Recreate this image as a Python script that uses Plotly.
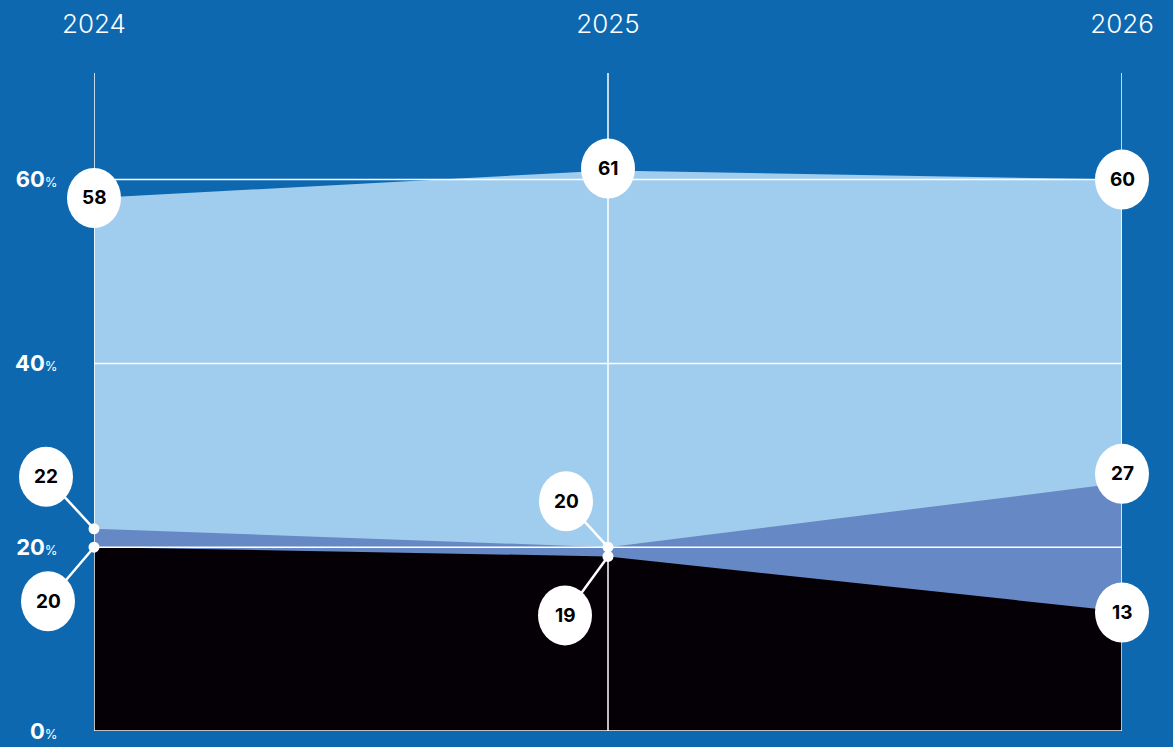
import plotly.graph_objects as go

years = [2024, 2025, 2026]
top_values = [58, 61, 60]      # light blue series
mid_values = [22, 20, 27]      # medium blue series
low_values = [20, 19, 13]      # black series
y_ticks = [0, 20, 40, 60]
y_tick_labels = ["0", "20", "40", "60"]
year_labels = ["2024", "2025", "2026"]

BG = "#0d68b0"
LIGHT = "#a0cdee"
MID = "#6688c4"
DARK = "#050005"
WHITE = "#ffffff"
ytop = 71.6

fig = go.Figure()
for vals, col in [(top_values, LIGHT), (mid_values, MID), (low_values, DARK)]:
    fig.add_trace(go.Scatter(x=years, y=vals, mode="lines", fill="tozeroy",
                             fillcolor=col, line=dict(width=0, color=col),
                             hoverinfo="skip", showlegend=False))

# grid lines drawn above the areas
for t in y_ticks:
    fig.add_trace(go.Scatter(x=[years[0], years[-1]], y=[t, t], mode="lines",
                             line=dict(color=WHITE, width=1.5),
                             hoverinfo="skip", showlegend=False))
for yr in years:
    fig.add_trace(go.Scatter(x=[yr, yr], y=[0, ytop], mode="lines",
                             line=dict(color=WHITE, width=1.5),
                             hoverinfo="skip", showlegend=False))

def px(yr):
    return (yr - years[0]) / (years[-1] - years[0])

def py(v):
    return v / ytop

# label offsets (pixels: dx right, dy up) and whether a connector is used
series_offsets = [
    (top_values, [(0, 0), (0, 2), (0, 0)], [False, False, False]),
    (mid_values, [(-48, 52), (-42, 46), (0, 9)], [True, True, False]),
    (low_values, [(-46, -54), (-43, -59), (0, -1)], [True, True, False]),
]

RX, RY = 27, 30
for vals, offs, conn in series_offsets:
    for i, (yr, v) in enumerate(zip(years, vals)):
        dx, dy = offs[i]
        ax, ay = px(yr), py(v)
        if conn[i]:
            fig.add_shape(type="line", xref="paper", yref="paper",
                          xsizemode="pixel", ysizemode="pixel",
                          xanchor=ax, yanchor=ay, x0=0, y0=0, x1=dx, y1=dy,
                          line=dict(color=WHITE, width=2.5), layer="above")
            fig.add_shape(type="circle", xref="paper", yref="paper",
                          xsizemode="pixel", ysizemode="pixel",
                          xanchor=ax, yanchor=ay, x0=-5.5, x1=5.5, y0=-5.5, y1=5.5,
                          fillcolor=WHITE, line=dict(width=0), layer="above")
        fig.add_shape(type="circle", xref="paper", yref="paper",
                      xsizemode="pixel", ysizemode="pixel",
                      xanchor=ax, yanchor=ay, x0=dx - RX, x1=dx + RX,
                      y0=dy - RY, y1=dy + RY,
                      fillcolor=WHITE, line=dict(width=0), layer="above")
        fig.add_annotation(x=yr, y=v, xref="x", yref="y", text=f"<b>{v}</b>",
                           showarrow=False, xshift=dx, yshift=dy,
                           font=dict(family="Inter, Lato, sans-serif", size=19,
                                     color="#000000"))

fig.update_layout(
    width=1173, height=747,
    paper_bgcolor=BG, plot_bgcolor=BG,
    margin=dict(l=94, r=51, t=73, b=16),
    showlegend=False,
    xaxis=dict(range=[years[0], years[-1]], side="top", tickvals=years,
               ticktext=year_labels, showgrid=False, zeroline=False,
               showline=False, ticks="outside", ticklen=29, automargin=False,
               tickcolor="rgba(0,0,0,0)",
               tickfont=dict(family="Inter, Lato, sans-serif", size=26,
                             color=WHITE, weight=300)),
    yaxis=dict(range=[0, ytop], tickvals=y_ticks,
               ticktext=[f"<b>{t}</b><span style='font-size:13px'>%</span>"
                         for t in y_tick_labels],
               showgrid=False, zeroline=False, showline=False, automargin=False,
               ticks="outside", ticklen=31, tickcolor="rgba(0,0,0,0)",
               tickfont=dict(family="Inter, Lato, sans-serif", size=22,
                             color=WHITE)),
)

fig.write_html("out.html")
